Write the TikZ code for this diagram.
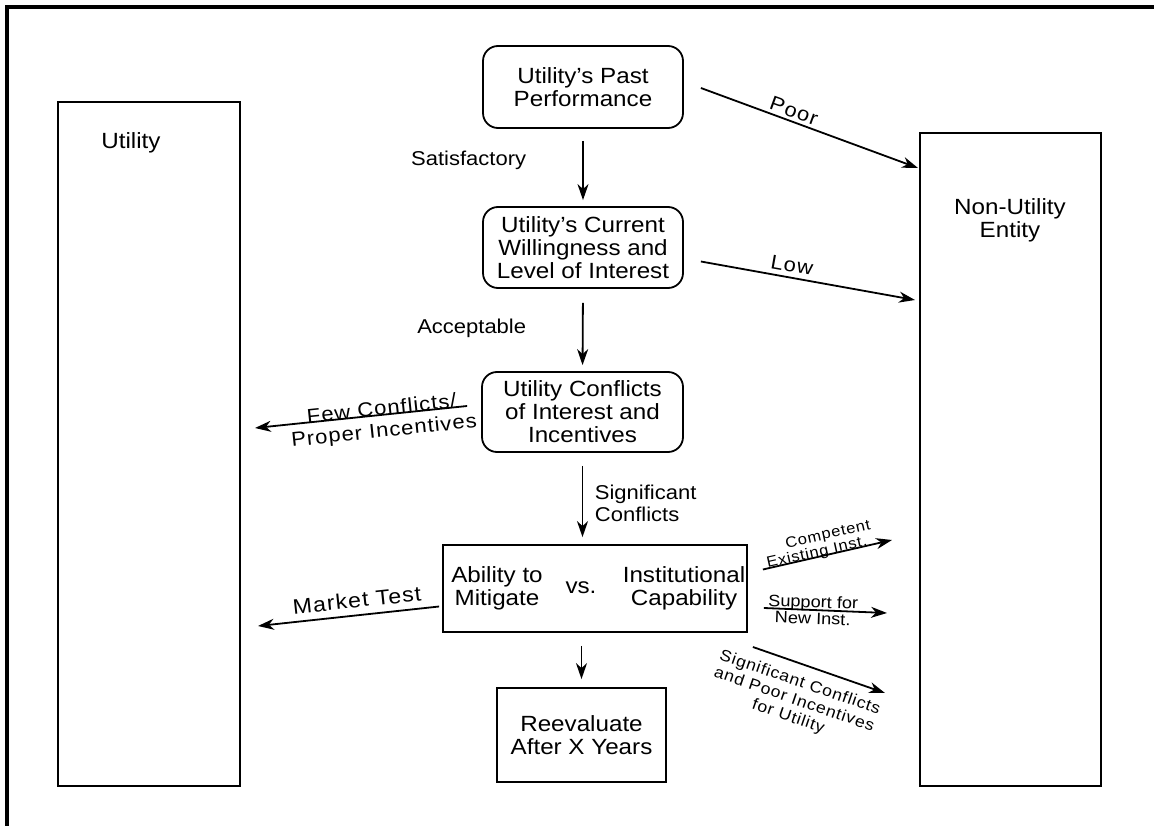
\documentclass[tikz,border=0pt]{standalone}
\usepackage{fontspec}
\setmainfont{Liberation Sans}[FakeStretch=1.1]
\newfontfamily\spacedfont{Liberation Sans}[FakeStretch=1.1,LetterSpace=5]
\usetikzlibrary{arrows.meta,calc}

\tikzset{every picture/.style={line width=1.8pt}}
\tikzset{
	roundbox/.style={draw, rounded corners=15pt, minimum width=200pt, minimum height=81pt, align=center, inner sep=0pt, font=\fontsize{22}{23}\selectfont},
	plainbox/.style={draw, align=center, inner sep=0pt},
	bigtext/.style={font=\fontsize{22}{23}\selectfont, align=center},
	lbl/.style={font=\fontsize{20}{22}\selectfont, inner sep=0pt},
	slbl/.style={font=\spacedfont\fontsize{20}{22}\selectfont, align=center, inner sep=0pt},
	arr/.style={-{Stealth[length=16pt,width=11pt,inset=5pt]}, line width=1.8pt}
}

\begin{document}
\begin{tikzpicture}[x=1pt,y=1pt,yscale=-1,xscale=1]
	\useasboundingbox (0,0) rectangle (1154,826);

	%Frame
	\draw [line width=3.5pt] (7,826) -- (7,7) -- (1154,7) ;

	%Shape: Rectangle
	\node [plainbox, minimum width=182pt, minimum height=684pt] (utilbox) at (149,444) {};
	% Text Node
	\node [bigtext] (utiltxt) at (131,143) {Utility};
	%Shape: Rectangle
	\node [plainbox, minimum width=181pt, minimum height=653pt] (nonbox) at (1010.5,459.5) {};
	% Text Node
	\node [bigtext] (nontxt) at (1010,220) {Non-Utility\\Entity};

	%Rounded Rect
	\node [roundbox, minimum height=82pt] (past) at (583,87) {Utility's Past\\Performance};
	%Rounded Rect
	\node [roundbox] (willing) at (583,247.5) {Utility's Current\\Willingness and\\Level of Interest};
	%Rounded Rect
	\node [roundbox, minimum width=201pt, minimum height=80pt] (confl) at (582.5,412) {Utility Conflicts\\of Interest and\\Incentives};
	%Shape: Rectangle
	\node [plainbox, minimum width=304pt, minimum height=87pt] (ability) at (595,588.5) {};
	% Text Node
	\node [bigtext] (mitig) at (497,588) {Ability to\\Mitigate};
	\node [bigtext] (versus) at (581,588) {vs.};
	\node [bigtext] (capab) at (684,588) {Institutional\\Capability};
	%Shape: Rectangle
	\node [plainbox, bigtext, minimum width=169pt, minimum height=94pt] (reeval) at (581.5,735) {Reevaluate\\After X Years};

	%Straight Lines
	\draw [arr, shorten <=12pt, shorten >=6pt] (past.south) -- (willing.north) ;
	\draw [arr, shorten <=14pt, shorten >=6pt] (willing.south) -- (confl.north) ;
	\draw [arr, shorten <=13pt, shorten >=7pt] (confl.south) -- (confl.south |- ability.north) ;
	\draw [arr, shorten <=13pt, shorten >=8pt] (reeval.north |- ability.south) -- (reeval.north) ;
	% Text Node
	\node [lbl, anchor=east] (satis) at (527,160) {Satisfactory};
	\node [lbl, anchor=east] (accept) at (527,328) {Acceptable};
	\node [lbl, anchor=west, align=left] (signif) at (594,503) {Significant\\Conflicts};

	%Straight Lines
	\coordinate (poorend) at (918,168);
	\draw [arr] ($(past.east)+(17,1)$) -- (poorend) ;
	\node [slbl, rotate=-20] (poor) at (794,111) {Poor};
	\coordinate (lowend) at (915,300);
	\draw [arr] ($(willing.east)+(17,14)$) -- (lowend) ;
	\node [slbl, rotate=-10] (low) at (792,265) {Low};
	\coordinate (fewend) at (255,428);
	\draw [arr] ($(confl.west)+(-14,-6)$) -- (fewend) ;
	\node [slbl, rotate=6] (few) at (383,421) {Few Conflicts/\\Proper Incentives};
	\coordinate (mktend) at (258,626);
	\draw [arr] ($(ability.west)+(-3,18)$) -- (mktend) ;
	\node [slbl, font=\spacedfont\fontsize{21}{22}\selectfont, rotate=6] (mkt) at (357,600) {Market Test};

	%Straight Lines
	\coordinate (compend) at (892,540);
	\draw [arr] ($(ability.east)+(15,-19)$) -- (compend) ;
	\node [slbl, font=\spacedfont\fontsize{15}{17}\selectfont, rotate=12.6] (compet) at (828,535) {Competent};
	\node [slbl, font=\spacedfont\fontsize{15}{17}\selectfont, rotate=12.6] (exist) at (817,553) {Existing Inst.};
	\coordinate (suppend) at (887,613);
	\draw [arr] ($(ability.east)+(16,19.5)$) -- (suppend) ;
	\node [lbl, font=\fontsize{16.5}{16.5}\selectfont, align=center, rotate=-2] (supp) at (813,610) {Support for\\New Inst.};
	\coordinate (sigend) at (885,693);
	\draw [arr] ($(ability.east)+(5,58.5)$) -- (sigend) ;
	\node [slbl, font=\spacedfont\fontsize{16}{18}\selectfont, rotate=-19] (sigpoor) at (794,700) {Significant Conflicts\\and Poor Incentives\\for Utility};

\end{tikzpicture}
\end{document}
